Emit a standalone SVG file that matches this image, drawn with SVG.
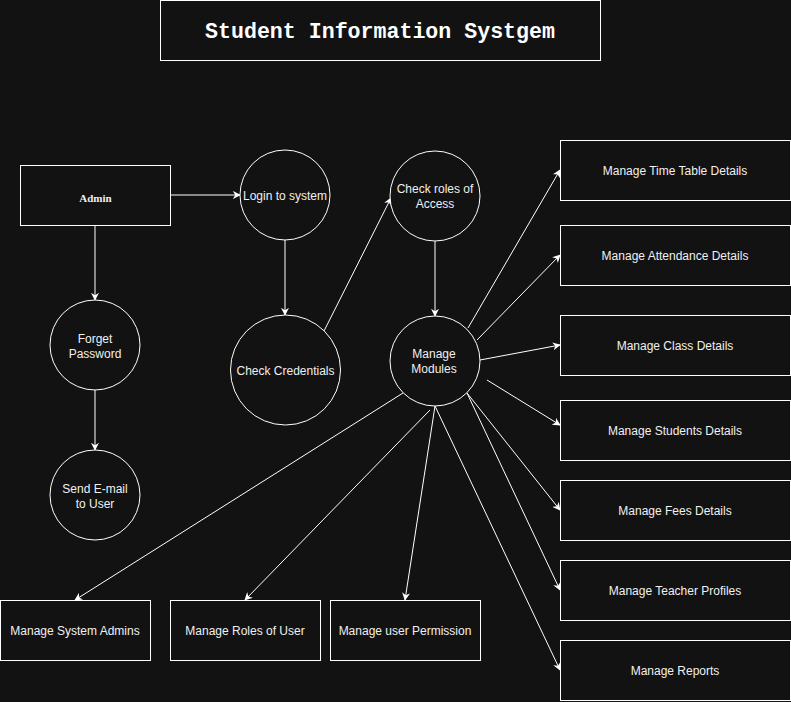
<svg xmlns="http://www.w3.org/2000/svg" width="791" height="702" viewBox="0 0 791 702">
<style>
.bg{fill:#121212}
.n{fill:#121212;stroke:#ffffff;stroke-width:1}
.t{fill:#f0f0f0;font-family:"Liberation Sans",Arial,sans-serif;font-size:12px;text-anchor:middle}
.e{stroke:#ffffff;stroke-width:1;fill:none;marker-end:url(#a)}
</style>
<defs>
<marker id="a" viewBox="0 0 10 10" refX="9" refY="5" markerWidth="8" markerHeight="8" markerUnits="userSpaceOnUse" orient="auto">
<path d="M0,0 L10,5 L0,10 L3,5 z" fill="#ffffff"/>
</marker>
</defs>
<rect class="bg" x="0" y="0" width="791" height="702"/>
<g id="edges">
<line class="e" x1="170" y1="195" x2="240" y2="195"/>
<line class="e" x1="95" y1="225" x2="95" y2="300"/>
<line class="e" x1="95" y1="390" x2="95" y2="450"/>
<line class="e" x1="285" y1="240" x2="285" y2="315"/>
<line class="e" x1="324" y1="331" x2="391" y2="198"/>
<line class="e" x1="435" y1="241" x2="435" y2="316"/>
<line class="e" x1="468" y1="328" x2="560" y2="170"/>
<line class="e" x1="477" y1="340" x2="560" y2="255"/>
<line class="e" x1="480" y1="360" x2="560" y2="345"/>
<line class="e" x1="487" y1="380" x2="560" y2="425"/>
<line class="e" x1="467" y1="393" x2="560" y2="510"/>
<line class="e" x1="467" y1="393" x2="560" y2="590"/>
<line class="e" x1="435" y1="406" x2="560" y2="670"/>
<line class="e" x1="435" y1="406" x2="405" y2="600"/>
<line class="e" x1="430" y1="410" x2="245" y2="600"/>
<line class="e" x1="403" y1="393" x2="75" y2="600"/>
</g>
<g id="title">
<rect class="n" x="160.5" y="0.5" width="440" height="60"/>
<text x="380" y="38" style="fill:#ffffff;font-family:'Liberation Mono','Courier New',monospace;font-size:21.6px;font-weight:bold;text-anchor:middle">Student Information Systgem</text>
</g>
<g id="admin">
<rect class="n" x="20.5" y="165.5" width="150" height="60"/>
<text x="95.5" y="202" style="fill:#f0f0f0;font-family:'Liberation Serif','Times New Roman',serif;font-size:11px;font-weight:bold;text-anchor:middle">Admin</text>
</g>
<g id="login">
<circle class="n" cx="285" cy="195" r="45"/>
<text class="t" x="285" y="200">Login to system</text>
</g>
<g id="checkroles">
<circle class="n" cx="435" cy="196" r="45"/>
<text class="t" x="435" y="193">Check roles of</text>
<text class="t" x="435" y="208">Access</text>
</g>
<g id="forget">
<circle class="n" cx="95" cy="345" r="45"/>
<text class="t" x="95" y="343">Forget</text>
<text class="t" x="95" y="358">Password</text>
</g>
<g id="sendmail">
<circle class="n" cx="95" cy="495" r="45"/>
<text class="t" x="95" y="493">Send E-mail</text>
<text class="t" x="95" y="508">to User</text>
</g>
<g id="checkcred">
<circle class="n" cx="285.5" cy="370" r="55"/>
<text class="t" x="285.5" y="375">Check Credentials</text>
</g>
<g id="modules">
<circle class="n" cx="435" cy="361" r="45"/>
<text class="t" x="434" y="358">Manage</text>
<text class="t" x="434" y="373">Modules</text>
</g>
<g id="timetable">
<rect class="n" x="560.5" y="140.5" width="230" height="60"/>
<text class="t" x="675" y="175">Manage Time Table Details</text>
</g>
<g id="attendance">
<rect class="n" x="560.5" y="225.5" width="230" height="60"/>
<text class="t" x="675" y="260">Manage Attendance Details</text>
</g>
<g id="class">
<rect class="n" x="560.5" y="315.5" width="230" height="60"/>
<text class="t" x="675" y="350">Manage Class Details</text>
</g>
<g id="students">
<rect class="n" x="560.5" y="400.5" width="230" height="60"/>
<text class="t" x="675" y="435">Manage Students Details</text>
</g>
<g id="fees">
<rect class="n" x="560.5" y="480.5" width="230" height="60"/>
<text class="t" x="675" y="515">Manage Fees Details</text>
</g>
<g id="teacher">
<rect class="n" x="560.5" y="560.5" width="230" height="60"/>
<text class="t" x="675" y="595">Manage Teacher Profiles</text>
</g>
<g id="reports">
<rect class="n" x="560.5" y="640.5" width="230" height="60"/>
<text class="t" x="675" y="675">Manage Reports</text>
</g>
<g id="sysadmins">
<rect class="n" x="0.5" y="600.5" width="150" height="60"/>
<text class="t" x="75" y="635">Manage System Admins</text>
</g>
<g id="roles">
<rect class="n" x="170.5" y="600.5" width="150" height="60"/>
<text class="t" x="245" y="635">Manage Roles of User</text>
</g>
<g id="permission">
<rect class="n" x="330.5" y="600.5" width="150" height="60"/>
<text class="t" x="405" y="635">Manage user Permission</text>
</g>
</svg>
